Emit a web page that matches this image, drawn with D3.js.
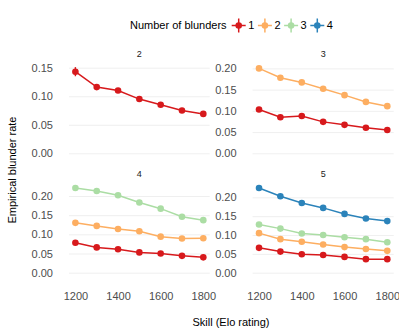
<!DOCTYPE html>
<html lang="en">
<head>
<meta charset="utf-8">
<title>Blunder rate by skill</title>
<script src="https://d3js.org/d3.v7.min.js"></script>
<style>
  body { margin: 0; background: #fff; }
  svg text { font-family: "Liberation Sans", Arial, sans-serif; }
  .tick text { fill: #4d4d4d; font-size: 11px; }
  .grid line { stroke: #ebebeb; stroke-width: 0.8; }
</style>
</head>
<body>
<svg width="399" height="332"></svg>
<script>
  // Data
  var skill = [1200, 1300, 1400, 1500, 1600, 1700, 1800];
  var panels = ["2", "3", "4", "5"];
  var blunders = ["1", "2", "3", "4"];
  var colours = ["#d7191c", "#fdae61", "#abdda4", "#2b83ba"];

  // panel 2
  var p2_b1 = [0.143, 0.116, 0.110, 0.095, 0.085, 0.075, 0.069];
  var p2_b1_err = [0.008, 0.003, 0.003, 0.003, 0.003, 0.003, 0.003];
  // panel 3
  var p3_b1 = [0.103, 0.085, 0.088, 0.074, 0.067, 0.060, 0.055];
  var p3_b2 = [0.200, 0.178, 0.167, 0.152, 0.137, 0.121, 0.111];
  // panel 4
  var p4_b1 = [0.078, 0.066, 0.061, 0.053, 0.050, 0.044, 0.040];
  var p4_b2 = [0.130, 0.122, 0.114, 0.108, 0.094, 0.089, 0.090];
  var p4_b3 = [0.221, 0.213, 0.202, 0.183, 0.167, 0.146, 0.137];
  // panel 5
  var p5_b1 = [0.066, 0.056, 0.049, 0.047, 0.042, 0.036, 0.036];
  var p5_b2 = [0.105, 0.089, 0.082, 0.075, 0.068, 0.063, 0.058];
  var p5_b3 = [0.128, 0.117, 0.104, 0.100, 0.094, 0.089, 0.081];
  var p5_b4 = [0.225, 0.203, 0.185, 0.172, 0.156, 0.144, 0.137];

  var smallErr = 0.003;
  var series = {
    "2": [p2_b1],
    "3": [p3_b1, p3_b2],
    "4": [p4_b1, p4_b2, p4_b3],
    "5": [p5_b1, p5_b2, p5_b3, p5_b4]
  };
  var errs = { "2": [p2_b1_err] };

  var svg = d3.select("svg");

  // panel boxes
  var cols = [[69, 209.7], [252.6, 393.7]];
  var rows = [[62.8, 157.6], [182.5, 277]];

  var x = d3.scaleLinear().domain([1170, 1830]);

  panels.forEach(function(p, i) {
    var c = cols[i % 2], r = rows[Math.floor(i / 2)];
    var xs = x.copy().range(c);
    var list = series[p];
    var top = 0;
    list.forEach(function(s, k) {
      s.forEach(function(v, j) {
        var e = errs[p] ? errs[p][k][j] : smallErr;
        top = Math.max(top, v + e);
      });
    });
    var pad = top * 0.05;
    var y = d3.scaleLinear().domain([-pad, top + pad]).range([r[1], r[0]]);

    var g = svg.append("g");

    // grid
    g.append("g").attr("class", "grid")
      .attr("transform", "translate(" + c[0] + ",0)")
      .call(d3.axisLeft(y).ticks(5).tickSize(-(c[1] - c[0])).tickFormat(""))
      .call(function(a) { a.select(".domain").remove(); });

    // y axis labels
    g.append("g")
      .attr("transform", "translate(" + c[0] + ",0)")
      .call(d3.axisLeft(y).ticks(5, ".2f").tickSize(0).tickPadding(16))
      .call(function(a) { a.select(".domain").remove(); })
      .attr("font-family", null).attr("font-size", null);

    // strip
    g.append("text")
      .attr("x", (c[0] + c[1]) / 2)
      .attr("y", r[0] - 6)
      .attr("text-anchor", "middle")
      .attr("font-size", 9)
      .attr("fill", "#1a1a1a")
      .text(p);

    // x axis on bottom row
    if (i >= 2) {
      g.append("g")
        .attr("transform", "translate(0," + (r[1] + 15.5) + ")")
        .call(d3.axisBottom(xs).tickValues([1200, 1400, 1600, 1800]).tickFormat(d3.format("d")).tickSize(0).tickPadding(0))
        .call(function(a) { a.select(".domain").remove(); })
        .attr("font-family", null).attr("font-size", null);
    }

    var line = d3.line()
      .x(function(d, j) { return xs(skill[j]); })
      .y(function(d) { return y(d); });

    list.forEach(function(s, k) {
      var col = colours[k];
      g.append("path")
        .attr("d", line(s))
        .attr("fill", "none")
        .attr("stroke", col)
        .attr("stroke-width", 1.5);
      g.selectAll(null).data(s).enter().append("line")
        .attr("x1", function(d, j) { return xs(skill[j]); })
        .attr("x2", function(d, j) { return xs(skill[j]); })
        .attr("y1", function(d, j) { return y(d - (errs[p] ? errs[p][k][j] : smallErr)); })
        .attr("y2", function(d, j) { return y(d + (errs[p] ? errs[p][k][j] : smallErr)); })
        .attr("stroke", col)
        .attr("stroke-width", 1.4);
      g.selectAll(null).data(s).enter().append("circle")
        .attr("cx", function(d, j) { return xs(skill[j]); })
        .attr("cy", function(d) { return y(d); })
        .attr("r", 3.3)
        .attr("fill", col);
    });
  });

  // axis titles
  svg.append("text")
    .attr("x", 231).attr("y", 325.5)
    .attr("text-anchor", "middle")
    .attr("font-size", 11)
    .text("Skill (Elo rating)");
  svg.append("text")
    .attr("transform", "translate(15.5,170) rotate(-90)")
    .attr("text-anchor", "middle")
    .attr("font-size", 11)
    .text("Empirical blunder rate");

  // legend
  var lg = svg.append("g");
  lg.append("text")
    .attr("x", 130).attr("y", 29)
    .attr("font-size", 11)
    .text("Number of blunders");
  blunders.forEach(function(b, k) {
    var cx = 238.7 + k * 26.2, cy = 25.5;
    lg.append("line").attr("x1", cx - 7).attr("x2", cx + 7).attr("y1", cy).attr("y2", cy)
      .attr("stroke", colours[k]).attr("stroke-width", 1.5);
    lg.append("line").attr("x1", cx).attr("x2", cx).attr("y1", cy - 7).attr("y2", cy + 7)
      .attr("stroke", colours[k]).attr("stroke-width", 1.5);
    lg.append("circle").attr("cx", cx).attr("cy", cy).attr("r", 3.3).attr("fill", colours[k]);
    lg.append("text")
      .attr("x", cx + 9.5).attr("y", 29)
      .attr("font-size", 11)
      .text(b);
  });
</script>
</body>
</html>
